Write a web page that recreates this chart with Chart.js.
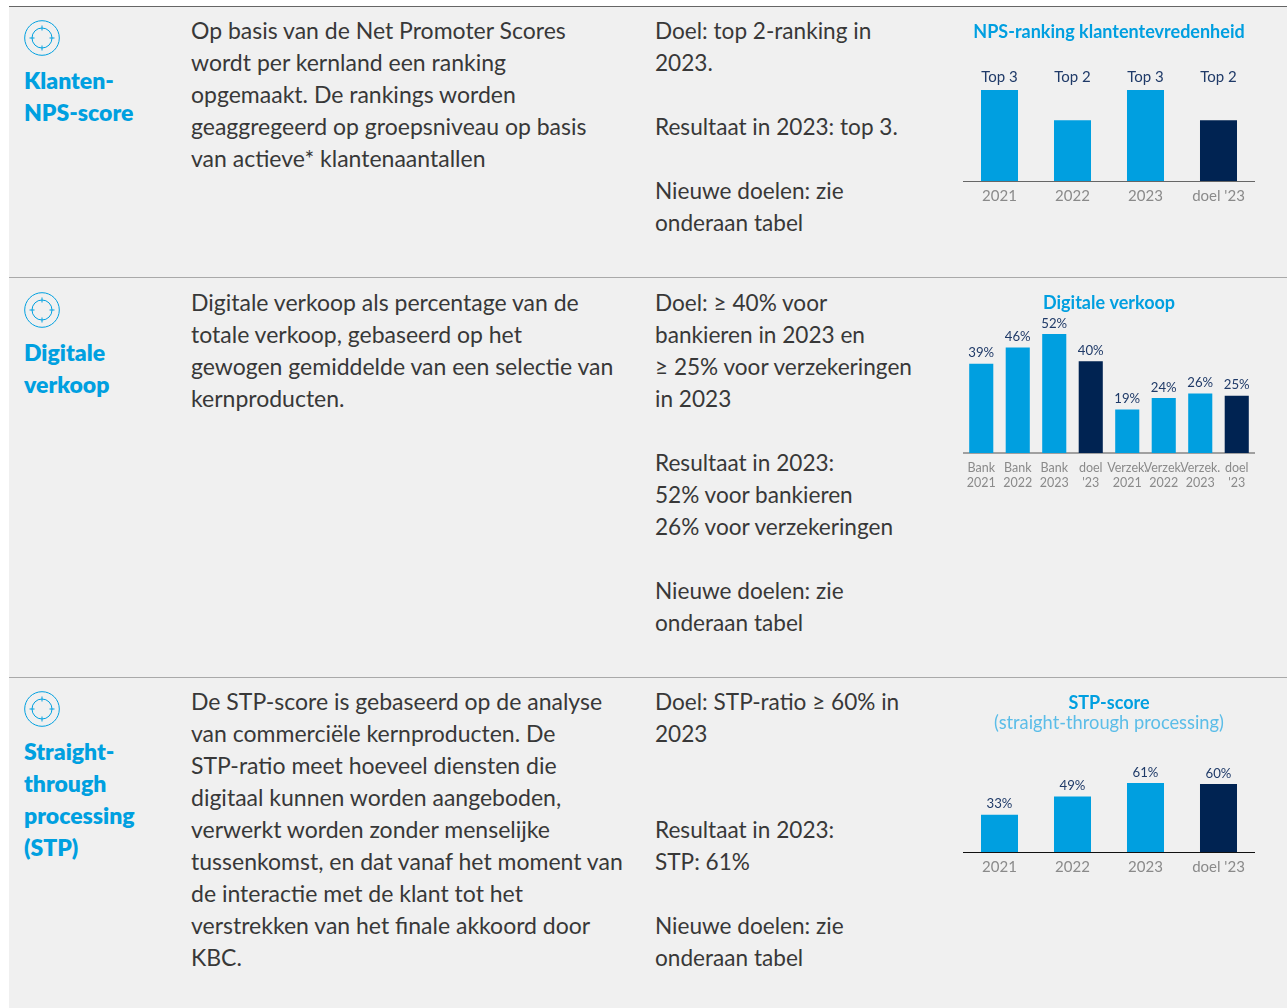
<!DOCTYPE html>
<html lang="nl">
<head>
<meta charset="utf-8">
<title>KBC doelen</title>
<script src="https://cdn.jsdelivr.net/npm/chart.js@4"></script>
<style>
  html, body { margin: 0; padding: 0; background: #fff; }
  body { position: relative; width: 1287px; height: 1008px; overflow: hidden; font-family: Lato, sans-serif; color: #383838; }
  #panel { position: absolute; left: 9px; top: 6px; width: 1278px; height: 1002px; background: #f0f0f0; }
  .rule { position: absolute; left: 9px; width: 1278px; height: 1px; background: #a9a9a9; }
  .txt { position: absolute; font-size: 23px; line-height: 32px; white-space: nowrap; }
  .head { position: absolute; left: 24px; font-size: 23px; line-height: 32px; font-weight: 800; color: #00a0e0; white-space: nowrap; }
  .col2 { left: 191px; }
  .col3 { left: 655px; font-size: 22.6px; }
  svg.icon { position: absolute; left: 24px; width: 36px; height: 36px; }
  canvas { position: absolute; left: 963px; }
</style>
</head>
<body>
<div id="panel"></div>
<div class="rule" style="top:6px;background:#666"></div>
<div class="rule" style="top:277px"></div>
<div class="rule" style="top:677px"></div>

<svg class="icon" style="top:20px" viewBox="0 0 36 36"><use href="#target"/></svg>
<svg class="icon" style="top:292px" viewBox="0 0 36 36"><use href="#target"/></svg>
<svg class="icon" style="top:691px" viewBox="0 0 36 36"><use href="#target"/></svg>
<svg width="0" height="0" style="position:absolute">
  <g id="target" fill="none" stroke="#00a0e0" stroke-width="1">
    <circle cx="18" cy="18" r="17.3"/>
    <circle cx="18" cy="18" r="10"/>
    <path d="M18 5.5v5M18 25.5v5M5.5 18h5M25.5 18h5"/>
  </g>
</svg>

<div class="head" style="top:64px">Klanten-<br>NPS-score</div>
<div class="txt col2" style="top:14px">Op basis van de Net Promoter Scores<br>wordt per kernland een ranking<br>opgemaakt. De rankings worden<br>geaggregeerd op groepsniveau op basis<br>van actieve* klantenaantallen</div>
<div class="txt col3" style="top:15px">Doel: top 2-ranking in<br>2023.<br><br>Resultaat in 2023: top 3.<br><br>Nieuwe doelen: zie<br>onderaan tabel</div>

<div class="head" style="top:336px">Digitale<br>verkoop</div>
<div class="txt col2" style="top:286px">Digitale verkoop als percentage van de<br>totale verkoop, gebaseerd op het<br>gewogen gemiddelde van een selectie van<br>kernproducten.</div>
<div class="txt col3" style="top:287px">Doel: ≥ 40% voor<br>bankieren in 2023 en<br>≥ 25% voor verzekeringen<br>in 2023<br><br>Resultaat in 2023:<br>52% voor bankieren<br>26% voor verzekeringen<br><br>Nieuwe doelen: zie<br>onderaan tabel</div>

<div class="head" style="top:735px">Straight-<br>through<br>processing<br>(STP)</div>
<div class="txt col2" style="top:685px">De STP-score is gebaseerd op de analyse<br>van commerciële kernproducten. De<br>STP-ratio meet hoeveel diensten die<br>digitaal kunnen worden aangeboden,<br>verwerkt worden zonder menselijke<br>tussenkomst, en dat vanaf het moment van<br>de interactie met de klant tot het<br>verstrekken van het finale akkoord door<br>KBC.</div>
<div class="txt col3" style="top:686px">Doel: STP-ratio ≥ 60% in<br>2023<br><br><br>Resultaat in 2023:<br>STP: 61%<br><br>Nieuwe doelen: zie<br>onderaan tabel</div>

<canvas id="npsChart" width="292" height="200" style="top:20px"></canvas>
<canvas id="digitalChart" width="292" height="210" style="top:291px"></canvas>
<canvas id="stpChart" width="292" height="200" style="top:692px"></canvas>

<script>
const blue = "#009fe0";
const navy = "#002352";

const npsCategories = ["2021", "2022", "2023", "doel '23"];
const npsValues = [3, 2, 3, 2];
const npsLabels = ["Top 3", "Top 2", "Top 3", "Top 2"];
const npsColors = [blue, blue, blue, navy];

const digitalCategories = [
  ["Bank", "2021"], ["Bank", "2022"], ["Bank", "2023"], ["doel", "'23"],
  ["Verzek.", "2021"], ["Verzek.", "2022"], ["Verzek.", "2023"], ["doel", "'23"]
];
const digitalValues = [39, 46, 52, 40, 19, 24, 26, 25];
const digitalColors = [blue, blue, blue, navy, blue, blue, blue, navy];

const stpCategories = ["2021", "2022", "2023", "doel '23"];
const stpValues = [33, 49, 61, 60];
const stpColors = [blue, blue, blue, navy];

// Draws the text above each bar. With anchor set, all labels sit on one height.
const valueLabels = {
  id: "valueLabels",
  afterDatasetsDraw(chart, args, opts) {
    const { ctx } = chart;
    ctx.save();
    ctx.font = opts.size + "px Lato, sans-serif";
    ctx.fillStyle = "#1f3a68";
    ctx.textAlign = "center";
    ctx.textBaseline = "middle";
    chart.getDatasetMeta(0).data.forEach((bar, i) => {
      const top = opts.anchor ? chart.scales.y.getPixelForValue(opts.anchor) : bar.y;
      ctx.fillText(opts.labels[i], bar.x, top - opts.gap);
    });
    ctx.restore();
  }
};

function makeChart(id, o) {
  return new Chart(document.getElementById(id), {
    type: "bar",
    data: {
      labels: o.categories,
      datasets: [{ data: o.values, backgroundColor: o.colors, barPercentage: o.barPercentage, categoryPercentage: 1 }]
    },
    plugins: [valueLabels],
    options: {
      responsive: false,
      animation: false,
      layout: { padding: 0 },
      plugins: {
        legend: { display: false },
        tooltip: { enabled: false },
        title: {
          display: true,
          text: o.title,
          color: blue,
          font: { family: "Lato, sans-serif", size: 18, weight: "bold", lineHeight: 1.1 },
          padding: { top: o.titleTop, bottom: o.titleGap }
        },
        subtitle: {
          display: !!o.subtitle,
          text: o.subtitle || "",
          color: "#5bbde8",
          font: { family: "Lato, sans-serif", size: 18.3, weight: "normal", lineHeight: 1.1 },
          padding: 0
        },
        valueLabels: { labels: o.labels, gap: o.gap, size: o.labelSize, anchor: o.anchor }
      },
      scales: {
        x: {
          // fixed axis height and no side padding, so the bars land on a regular step
          afterFit: (scale) => {
            scale.height = o.axisHeight;
            scale.paddingLeft = 0;
            scale.paddingRight = 0;
          },
          grid: { drawOnChartArea: false, drawTicks: false },
          border: { color: o.axisColor, width: o.axisWidth },
          ticks: {
            color: "#8a8a8a",
            padding: o.tickPadding,
            autoSkip: false,
            maxRotation: 0,
            font: { family: "Lato, sans-serif", size: o.tickSize, lineHeight: 1.2 }
          }
        },
        y: { display: false, min: 0, max: o.max }
      }
    }
  });
}

makeChart("npsChart", {
  title: "NPS-ranking klantentevredenheid", categories: npsCategories, values: npsValues, labels: npsLabels, colors: npsColors,
  barPercentage: 0.507, max: 4.52, titleTop: 2, titleGap: 2, axisHeight: 39, axisColor: "#666", axisWidth: 1,
  tickPadding: 6, tickSize: 15, gap: 13, labelSize: 15, anchor: 3
});

makeChart("digitalChart", {
  title: "Digitale verkoop", categories: digitalCategories, values: digitalValues,
  labels: digitalValues.map(v => v + "%"), colors: digitalColors,
  barPercentage: 0.66, max: 61.2, titleTop: 2, titleGap: 0, axisHeight: 48, axisColor: "#a0a0a0", axisWidth: 2,
  tickPadding: 7, tickSize: 12.5, gap: 10.5, labelSize: 13.2
});

makeChart("stpChart", {
  title: "STP-score", subtitle: "(straight-through processing)", categories: stpCategories, values: stpValues,
  labels: stpValues.map(v => v + "%"), colors: stpColors,
  barPercentage: 0.507, max: 105.2, titleTop: 1, titleGap: 0, axisHeight: 40, axisColor: "#111", axisWidth: 1,
  tickPadding: 6, tickSize: 15, gap: 10.5, labelSize: 13.2
});
</script>
</body>
</html>
